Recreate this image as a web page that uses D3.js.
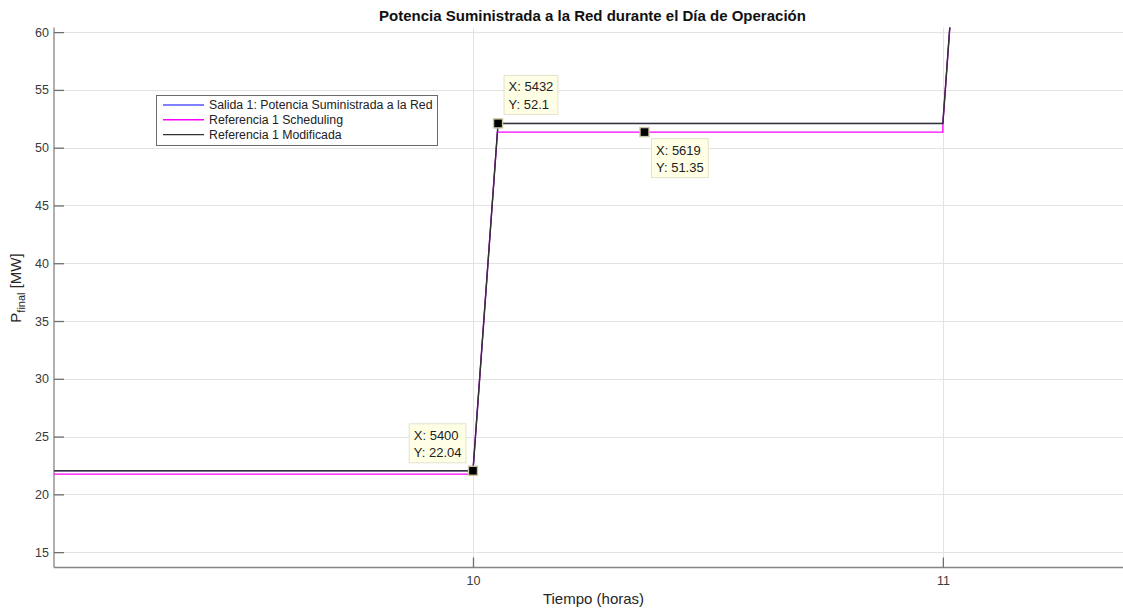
<!DOCTYPE html>
<html>
<head>
<meta charset="utf-8">
<script src="https://cdn.jsdelivr.net/npm/d3@7"></script>
<style>
  html, body { margin: 0; padding: 0; background: #fff; }
  svg { display: block; font-family: "Liberation Sans", Arial, sans-serif; }
</style>
</head>
<body>
<svg id="chart" width="1123" height="613"></svg>
<script>
// Sample index (6 s per sample) and power values in MW
const salidaX = [4865, 5400, 5432, 6000, 6032];
const salidaY = [22.04, 22.04, 52.1, 52.1, 82.2];
const schedX  = [4865, 5400, 5400, 5431.2, 6000, 6000, 6032];
const schedY  = [21.75, 21.75, 22.04, 51.35, 51.35, 52.1, 82.2];
const modX    = [4865, 5400, 5432, 6000, 6032];
const modY    = [22.04, 22.04, 52.1, 52.1, 82.2];

// Data tips
const tipX = [5400, 5432, 5619];
const tipY = [22.04, 52.1, 51.35];

// Axis ticks
const xTickVals   = [5400, 6000];
const xTickLabels = ["10", "11"];
const yTickVals   = [15, 20, 25, 30, 35, 40, 45, 50, 55, 60];

const seriesNames  = ["Salida 1: Potencia Suministrada a la Red", "Referencia 1 Scheduling", "Referencia 1 Modificada"];
const seriesColors = ["#0000ff", "#ff00ff", "#333333"];

const svg = d3.select("#chart");
const L = 54, R = 1123, T = 27.5, B = 567.5;

const x = d3.scaleLinear().domain([4865, 6230]).range([L, R]);
const y = d3.scaleLinear().domain([13.67, 60.4]).range([B, T]);

svg.append("defs").append("clipPath").attr("id", "plotClip")
  .append("rect").attr("x", L).attr("y", T).attr("width", R - L).attr("height", B - T);

// Grid
const grid = svg.append("g").attr("stroke", "#e3e3e3").attr("stroke-width", 1);
yTickVals.forEach(v => {
  grid.append("line").attr("x1", L).attr("x2", R)
    .attr("y1", Math.round(y(v)) + 0.5).attr("y2", Math.round(y(v)) + 0.5);
});
xTickVals.forEach(v => {
  grid.append("line").attr("y1", T).attr("y2", B)
    .attr("x1", Math.round(x(v)) + 0.5).attr("x2", Math.round(x(v)) + 0.5);
});

// Axes (ticks pointing inward)
const yAxis = d3.axisLeft(y).tickValues(yTickVals).tickSizeInner(-10).tickSizeOuter(0).tickPadding(5);
const xAxis = d3.axisBottom(x).tickValues(xTickVals).tickFormat((d, i) => xTickLabels[i])
  .tickSizeInner(-10).tickSizeOuter(0).tickPadding(8.5);

const gy = svg.append("g").attr("transform", `translate(${L},0)`).call(yAxis);
const gx = svg.append("g").attr("transform", `translate(0,${B})`).call(xAxis);
[gx, gy].forEach(g => {
  g.select(".domain").attr("stroke", "#858585").attr("stroke-width", 1.3);
  g.selectAll(".tick line").attr("stroke", "#6e6e6e").attr("stroke-width", 1.3);
  g.selectAll(".tick text").attr("fill", "#3a3a3a").style("font-size", "12.5px")
    .style("font-family", "Liberation Sans, Arial, sans-serif");
});
gy.select(".domain").attr("d", `M0,${T}V${B}`);
gx.select(".domain").attr("d", `M${L},0H${R}`);

// Series lines
const line = d3.line().x(d => x(d[0])).y(d => y(d[1]));
const plot = svg.append("g").attr("clip-path", "url(#plotClip)").attr("fill", "none");
const series = [
  { xs: salidaX, ys: salidaY, w: 1 },
  { xs: schedX,  ys: schedY,  w: 1.3 },
  { xs: modX,    ys: modY,    w: 1.45 }
];
series.forEach((s, i) => {
  plot.append("path")
    .datum(s.xs.map((v, k) => [v, s.ys[k]]))
    .attr("d", line)
    .attr("stroke", seriesColors[i])
    .attr("stroke-width", s.w);
});

// Data tip markers and labels
const tipPlacement = [
  { dx: -7, dy: -8, anchorRight: true,  anchorBottom: true },
  { dx: 6,  dy: -9, anchorRight: false, anchorBottom: true },
  { dx: 7,  dy: 6.5, anchorRight: false, anchorBottom: false }
];
const tips = svg.append("g");
tipX.forEach((tx, i) => {
  const mx = x(tx), my = y(tipY[i]);
  const p = tipPlacement[i];
  const g = tips.append("g");
  const lines = ["X: " + tx, "Y: " + tipY[i]];
  const box = g.append("rect").attr("fill", "#ffffe6").attr("stroke", "#e2e2cc").attr("stroke-width", 1);
  const texts = lines.map(t => g.append("text").text(t)
    .attr("fill", "#222").style("font-size", "13px"));
  const tw = d3.max(texts, t => t.node().getComputedTextLength());
  const bw = tw + 9, bh = 39;
  const bx = p.anchorRight ? mx + p.dx - bw : mx + p.dx;
  const by = p.anchorBottom ? my + p.dy - bh : my + p.dy;
  box.attr("x", bx).attr("y", by).attr("width", bw).attr("height", bh);
  texts.forEach((t, k) => t.attr("x", bx + 4.5).attr("y", by + 16 + k * 17.5));
  tips.append("rect")
    .attr("x", mx - 4.5).attr("y", my - 4.5).attr("width", 9).attr("height", 9)
    .attr("fill", "#000").attr("stroke", "#c9c6a4").attr("stroke-width", 1.4);
});

// Legend
const lg = svg.append("g");
lg.append("rect").attr("x", 156.5).attr("y", 95.5).attr("width", 281).attr("height", 50)
  .attr("fill", "#fff").attr("stroke", "#6a6a6a").attr("stroke-width", 1);
seriesNames.forEach((name, i) => {
  const cy = 105 + i * 14.8;
  lg.append("line").attr("x1", 163).attr("x2", 204).attr("y1", cy).attr("y2", cy)
    .attr("stroke", seriesColors[i]).attr("stroke-width", i === 1 ? 1.4 : 1.1);
  lg.append("text").attr("x", 209).attr("y", cy + 4.3).text(name)
    .attr("fill", "#222").style("font-size", "12.3px");
});

// Title and axis labels
svg.append("text").attr("x", 592.5).attr("y", 20.5).attr("text-anchor", "middle")
  .style("font-size", "15px").style("font-weight", "bold").attr("fill", "#111")
  .text("Potencia Suministrada a la Red durante el Día de Operación");

svg.append("text").attr("x", 593.5).attr("y", 604).attr("text-anchor", "middle")
  .style("font-size", "15px").attr("fill", "#262626").text("Tiempo (horas)");

const yl = svg.append("text").attr("transform", "translate(21,288) rotate(-90)")
  .attr("text-anchor", "middle").style("font-size", "15px").attr("fill", "#262626");
yl.append("tspan").text("P");
yl.append("tspan").attr("dy", 4).style("font-size", "11px").text("final");
yl.append("tspan").attr("dy", -4).text(" [MW]");
</script>
</body>
</html>
